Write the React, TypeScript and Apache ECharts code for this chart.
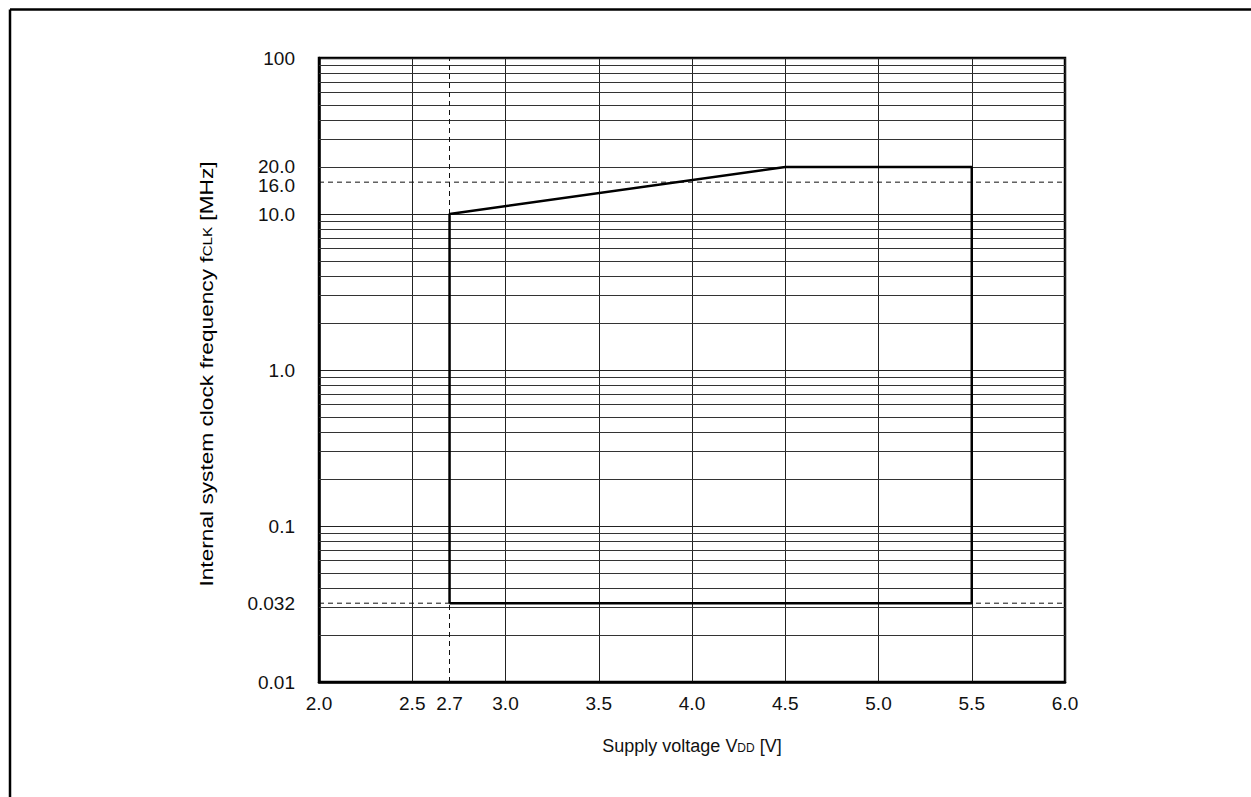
import React, { useEffect, useRef } from "react";
import * as echarts from "echarts";

// Operating region boundary (supply voltage V, clock frequency MHz)
const boundaryV = [2.7, 2.7, 4.5, 5.5, 5.5, 2.7];
const boundaryF = [0.032, 10, 20, 20, 0.032, 0.032];

// Reference (dashed) lines
const dashedFreqs = [16, 0.032];
const dashedFreqLabels = ["16.0", "0.032"];
const dashedVolt = 2.7;
const dashedVoltLabel = "2.7";

// Extra labelled frequency gridline
const extraFreq = 20;
const extraFreqLabel = "20.0";

// Axis ranges / ticks
const xMin = 2.0;
const xMax = 6.0;
const xInterval = 0.5;
const yMin = 0.01;
const yMax = 100;
const yTickLabels: Record<string, string> = {
  "0.01": "0.01",
  "0.1": "0.1",
  "1": "1.0",
  "10": "10.0",
  "100": "100",
};
const decadeExponents = [-2, -1, 0, 1];
const minorMultipliers = [2, 3, 4, 5, 6, 7, 8, 9];

const xTitle = "{a|Supply voltage V}{s|DD}{a| [V]}";
const yTitle = "{a|Internal system clock frequency f}{s|CLK}{a| [MHz]}";

const FONT = "Liberation Sans, Arial, Helvetica, sans-serif";
const TICK_FS = 19;

export default function App() {
  const ref = useRef<HTMLDivElement>(null);

  useEffect(() => {
    document.body.style.margin = "0";
    if (!ref.current) return;
    const chart = echarts.init(ref.current, undefined, { renderer: "svg" });

    const minorValues: number[] = [];
    decadeExponents.forEach((k) =>
      minorMultipliers.forEach((m) =>
        minorValues.push(Number((m * Math.pow(10, k)).toPrecision(3)))
      )
    );

    const gridLineStyle = { color: "#333", width: 1, type: "solid" as const };
    const tickLabelStyle = { color: "#111", fontSize: TICK_FS, fontFamily: FONT };

    const markData: any[] = [];
    minorValues.forEach((v) => {
      if (v === extraFreq) return;
      markData.push({ yAxis: v, lineStyle: gridLineStyle, label: { show: false } });
    });
    markData.push({
      yAxis: extraFreq,
      lineStyle: gridLineStyle,
      label: {
        show: true,
        position: "start",
        formatter: extraFreqLabel,
        distance: 24,
        lineHeight: 14,
        offset: [0, -1],
        ...tickLabelStyle,
      },
    });
    markData.push({
      xAxis: dashedVolt,
      lineStyle: { color: "#111", width: 1, type: [5, 4] },
      label: { show: true, position: "start", formatter: dashedVoltLabel, distance: 12, ...tickLabelStyle },
    });

    const dashedSeries = dashedFreqs.map((f, i) => ({
      type: "line",
      z: 3,
      silent: true,
      symbol: "circle",
      symbolSize: 0.1,
      showSymbol: true,
      itemStyle: { color: "rgba(0,0,0,0)" },
      lineStyle: { color: "#111", width: 1, type: [5, 4] },
      data: [
        {
          value: [xMin, f],
          label: {
            show: true,
            position: "left",
            distance: 24,
            lineHeight: 14,
            offset: i === 0 ? [0, 3] : [0, 0],
            formatter: dashedFreqLabels[i],
            ...tickLabelStyle,
          },
        },
        { value: [xMax, f], label: { show: false } },
      ],
    }));

    const subRich = {
      a: { fontSize: 18, fontFamily: FONT, color: "#111" },
      s: { fontSize: 12, fontFamily: FONT, color: "#111", padding: [4, 0, 0, 0] },
    };

    chart.setOption({
      animation: false,
      backgroundColor: "#fff",
      grid: {
        left: 319,
        top: 58,
        width: 746,
        height: 624,
        show: true,
        borderColor: "#000",
        borderWidth: 2.5,
        backgroundColor: "transparent",
      },
      graphic: [
        {
          type: "line",
          shape: { x1: 10, y1: 9.5, x2: 1260, y2: 9.5 },
          style: { stroke: "#000", lineWidth: 2.5 },
          silent: true,
        },
        {
          type: "line",
          shape: { x1: 10, y1: 9.5, x2: 10, y2: 810 },
          style: { stroke: "#000", lineWidth: 2.5 },
          silent: true,
        },
        {
          type: "text",
          x: 206,
          y: 374,
          rotation: Math.PI / 2,
          scaleX: 1.26,
          silent: true,
          style: {
            text: yTitle,
            align: "center",
            verticalAlign: "middle",
            rich: subRich,
          },
        },
      ],
      xAxis: {
        type: "value",
        min: xMin,
        max: xMax,
        interval: xInterval,
        name: xTitle,
        nameLocation: "middle",
        nameGap: 55,
        nameTextStyle: { rich: subRich },
        axisLine: { show: true, lineStyle: { color: "#000", width: 2.5 } },
        axisTick: { show: false },
        axisLabel: {
          formatter: (v: number) => v.toFixed(1),
          ...tickLabelStyle,
          margin: 12,
        },
        splitLine: { show: true, lineStyle: { color: "#222", width: 1 } },
      },
      yAxis: {
        type: "log",
        logBase: 10,
        min: yMin,
        max: yMax,
        axisLine: { show: true, lineStyle: { color: "#000", width: 2.5 } },
        axisTick: { show: false },
        axisLabel: {
          formatter: (v: number) => yTickLabels[String(Number(v.toPrecision(3)))] ?? "",
          ...tickLabelStyle,
          margin: 24,
        },
        splitLine: { show: true, lineStyle: { color: "#222", width: 1 } },
      },
      series: [
        ...dashedSeries,
        {
          type: "line",
          z: 10,
          data: boundaryV.map((v, i) => [v, boundaryF[i]]),
          symbol: "none",
          lineStyle: { color: "#000", width: 2.5 },
          silent: true,
          markLine: {
            z: 1,
            silent: true,
            symbol: ["none", "none"],
            animation: false,
            data: markData,
          },
        },
      ],
    });

    return () => chart.dispose();
  }, []);

  return <div ref={ref} style={{ width: 1251, height: 797 }} />;
}
